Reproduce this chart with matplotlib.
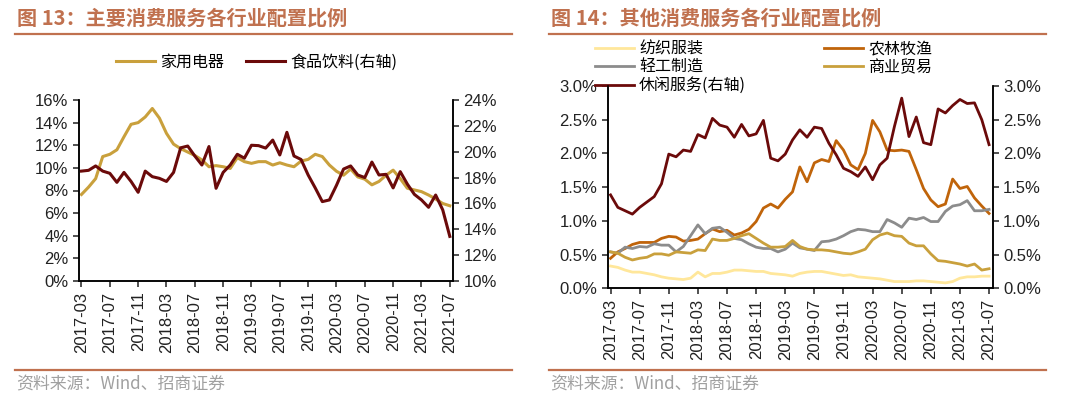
import numpy as np
import pandas as pd
import matplotlib
matplotlib.use('Agg')
import matplotlib.pyplot as plt
from matplotlib.lines import Line2D
from matplotlib.ticker import FuncFormatter

plt.rcParams['font.family'] = ['Liberation Sans', 'Noto Sans CJK SC', 'DejaVu Sans']
CJK = ['Noto Sans CJK SC', 'DejaVu Sans']

months = pd.date_range('2017-03-01', '2021-07-01', freq='MS')
tick_labels = [m.strftime('%Y-%m') for m in months[::4]]

# 图13 (%)
home_appliance = [7.65, 8.3, 9.05, 11.0, 11.2, 11.6, 12.75, 13.85, 14.0, 14.5,
                  15.25, 14.4, 13.05, 12.1, 11.7, 11.4, 11.1, 10.7, 10.1, 10.2,
                  10.1, 9.95, 10.9, 10.55, 10.4, 10.55, 10.55, 10.25, 10.45, 10.25,
                  10.1, 10.6, 10.75, 11.2, 11.0, 10.25, 9.7, 9.35, 9.9, 9.2,
                  9.0, 8.5, 8.8, 9.35, 9.8, 9.05, 8.2, 8.05, 7.9, 7.6,
                  7.25, 6.85, 6.65]
food_bev = [18.5, 18.56, 18.9, 18.5, 18.33, 17.63, 18.4, 17.7, 16.86, 18.5,
            18.07, 17.94, 17.7, 18.4, 20.3, 20.44, 19.67, 18.97, 20.4, 17.17,
            18.4, 18.97, 19.8, 19.5, 20.5, 20.47, 20.28, 20.9, 19.75, 21.5,
            19.67, 19.4, 18.2, 17.2, 16.14, 16.27, 17.4, 18.66, 18.9, 18.2,
            18.0, 19.2, 18.2, 18.25, 17.2, 18.46, 17.5, 16.7, 16.27, 15.7,
            16.65, 15.5, 13.45]

# 图14 (%)
textile = [0.33, 0.31, 0.27, 0.24, 0.24, 0.22, 0.20, 0.17, 0.15, 0.14,
           0.13, 0.15, 0.24, 0.17, 0.22, 0.22, 0.24, 0.27, 0.27, 0.26,
           0.25, 0.25, 0.22, 0.21, 0.20, 0.18, 0.22, 0.24, 0.25, 0.25,
           0.23, 0.21, 0.19, 0.20, 0.17, 0.16, 0.15, 0.14, 0.12, 0.10,
           0.10, 0.10, 0.11, 0.11, 0.10, 0.09, 0.08, 0.10, 0.15, 0.17,
           0.17, 0.18, 0.18]
agri = [0.445, 0.54, 0.59, 0.65, 0.68, 0.68, 0.68, 0.74, 0.77, 0.76,
        0.70, 0.71, 0.73, 0.81, 0.88, 0.84, 0.86, 0.79, 0.82, 0.875,
        0.99, 1.19, 1.25, 1.19, 1.32, 1.43, 1.80, 1.58, 1.86, 1.91,
        1.88, 2.19, 2.05, 1.83, 1.76, 2.00, 2.49, 2.32, 2.05, 2.04,
        2.05, 2.03, 1.76, 1.48, 1.31, 1.21, 1.25, 1.62, 1.48, 1.51,
        1.34, 1.22, 1.11]
light_ind = [0.54, 0.52, 0.61, 0.59, 0.62, 0.61, 0.66, 0.64, 0.64, 0.54,
             0.62, 0.78, 0.94, 0.81, 0.89, 0.905, 0.83, 0.74, 0.72, 0.66,
             0.61, 0.59, 0.59, 0.54, 0.58, 0.67, 0.60, 0.58, 0.56, 0.69,
             0.70, 0.73, 0.78, 0.84, 0.875, 0.865, 0.84, 0.84, 1.02, 0.97,
             0.905, 1.04, 1.02, 1.05, 0.99, 0.99, 1.14, 1.22, 1.24, 1.30,
             1.15, 1.15, 1.17]
commerce = [0.54, 0.52, 0.46, 0.42, 0.445, 0.46, 0.51, 0.51, 0.49, 0.54,
            0.53, 0.52, 0.57, 0.56, 0.73, 0.71, 0.71, 0.74, 0.78, 0.81,
            0.74, 0.67, 0.61, 0.61, 0.62, 0.71, 0.62, 0.58, 0.57, 0.57,
            0.56, 0.54, 0.52, 0.51, 0.54, 0.58, 0.72, 0.79, 0.82, 0.78,
            0.77, 0.67, 0.63, 0.63, 0.51, 0.41, 0.40, 0.38, 0.36, 0.33,
            0.36, 0.27, 0.29]
leisure = [1.385, 1.20, 1.15, 1.10, 1.20, 1.28, 1.36, 1.55, 1.99, 1.95,
           2.05, 2.03, 2.28, 2.23, 2.52, 2.42, 2.39, 2.24, 2.43, 2.26,
           2.29, 2.49, 1.93, 1.89, 1.99, 2.20, 2.35, 2.24, 2.39, 2.37,
           2.15, 1.98, 1.78, 1.73, 1.66, 1.80, 1.61, 1.83, 1.93, 2.40,
           2.82, 2.25, 2.54, 2.16, 2.13, 2.66, 2.60, 2.71, 2.80, 2.74,
           2.75, 2.50, 2.13]

TITLE_C = '#C0714F'
GOLD = '#C9A03C'
DRED = '#6B0A0A'
TICK_C = '#222222'

x = np.arange(len(months))
xt = x[::4]

fig = plt.figure(figsize=(10.8, 3.99), dpi=100)


def style_axes(a, b):
    a.spines['top'].set_visible(False)
    b.spines['top'].set_visible(False)
    for s in ['left', 'bottom', 'right']:
        a.spines[s].set_linewidth(1.1)
        b.spines[s].set_linewidth(1.1)
    a.tick_params(axis='both', direction='out', length=4, width=1.1,
                  labelsize=12, colors=TICK_C)
    b.tick_params(axis='y', direction='out', length=4, width=1.1,
                  labelsize=12, colors=TICK_C)
    a.set_xticks(xt)
    a.set_xticklabels(tick_labels, rotation=90)


def header(x0, x1, title):
    fig.text(x0 / 1080 + 0.0015, 1 - 18 / 399, title, fontsize=14.5,
             fontweight='bold', color=TITLE_C, family=CJK, va='center', ha='left')
    fig.add_artist(Line2D([x0 / 1080, x1 / 1080], [1 - 34 / 399] * 2,
                          color=TITLE_C, lw=1.6, transform=fig.transFigure))
    fig.add_artist(Line2D([x0 / 1080, x1 / 1080], [1 - 370 / 399] * 2,
                          color=TITLE_C, lw=1.6, transform=fig.transFigure))
    fig.text(x0 / 1080 + 0.0015, 1 - 384 / 399, '资料来源：Wind、招商证券',
             fontsize=12.2, color='#A0A0A0', family=CJK, va='center', ha='left')


# ---------- 图 13 ----------
ax1 = fig.add_axes([79 / 1080, 1 - 281 / 399, (453 - 79) / 1080, (281 - 100) / 399])
ax1b = ax1.twinx()
l1, = ax1.plot(x, home_appliance, color=GOLD, lw=2.2, label='家用电器')
l2, = ax1b.plot(x, food_bev, color=DRED, lw=2.2, label='食品饮料(右轴)')
ax1.set_xlim(-0.35, 52.45)
ax1.set_ylim(0, 16)
ax1.set_yticks(np.arange(0, 17, 2))
ax1b.set_ylim(10, 24)
ax1b.set_yticks(np.arange(10, 25, 2))
ax1.yaxis.set_major_formatter(FuncFormatter(lambda v, p: f'{v:.0f}%'))
ax1b.yaxis.set_major_formatter(FuncFormatter(lambda v, p: f'{v:.0f}%'))
style_axes(ax1, ax1b)
ax1.legend(handles=[l1, l2], loc='center left', ncol=2, frameon=False,
           bbox_to_anchor=(116 / 1080, 1 - 62 / 399), bbox_transform=fig.transFigure,
           prop={'family': CJK, 'size': 11.5}, handlelength=2.45, handletextpad=0.3,
           columnspacing=1.4, borderpad=0, borderaxespad=0)
header(15, 512, '图 13：主要消费服务各行业配置比例')

# ---------- 图 14 ----------
ax2 = fig.add_axes([608 / 1080, 1 - 288.3 / 399, (992.7 - 608) / 1080, (288.3 - 86) / 399])
ax2b = ax2.twinx()
h1, = ax2.plot(x, textile, color='#FFE79B', lw=2.0, label='纺织服装')
h2, = ax2.plot(x, agri, color='#C0640A', lw=2.0, label='农林牧渔')
h3, = ax2.plot(x, light_ind, color='#8C8C8C', lw=2.0, label='轻工制造')
h4, = ax2.plot(x, commerce, color='#C9A03C', lw=2.0, label='商业贸易')
h5, = ax2b.plot(x, leisure, color=DRED, lw=2.0, label='休闲服务(右轴)')
ax2.set_xlim(-0.35, 52.5)
for a in (ax2, ax2b):
    a.set_ylim(0, 3.0)
    a.set_yticks(np.arange(0, 3.01, 0.5))
    a.yaxis.set_major_formatter(FuncFormatter(lambda v, p: f'{v:.1f}%'))
style_axes(ax2, ax2b)
ax2.legend(handles=[h1, h3, h5, h2, h4], loc='center left', ncol=2, frameon=False,
           bbox_to_anchor=(595 / 1080, 1 - 67.5 / 399), bbox_transform=fig.transFigure,
           prop={'family': CJK, 'size': 11.5}, handlelength=2.45, handletextpad=0.3,
           columnspacing=4.9, labelspacing=0.08, borderpad=0, borderaxespad=0)
header(549, 1046, '图 14：其他消费服务各行业配置比例')

fig.savefig('out.png', dpi=100)
